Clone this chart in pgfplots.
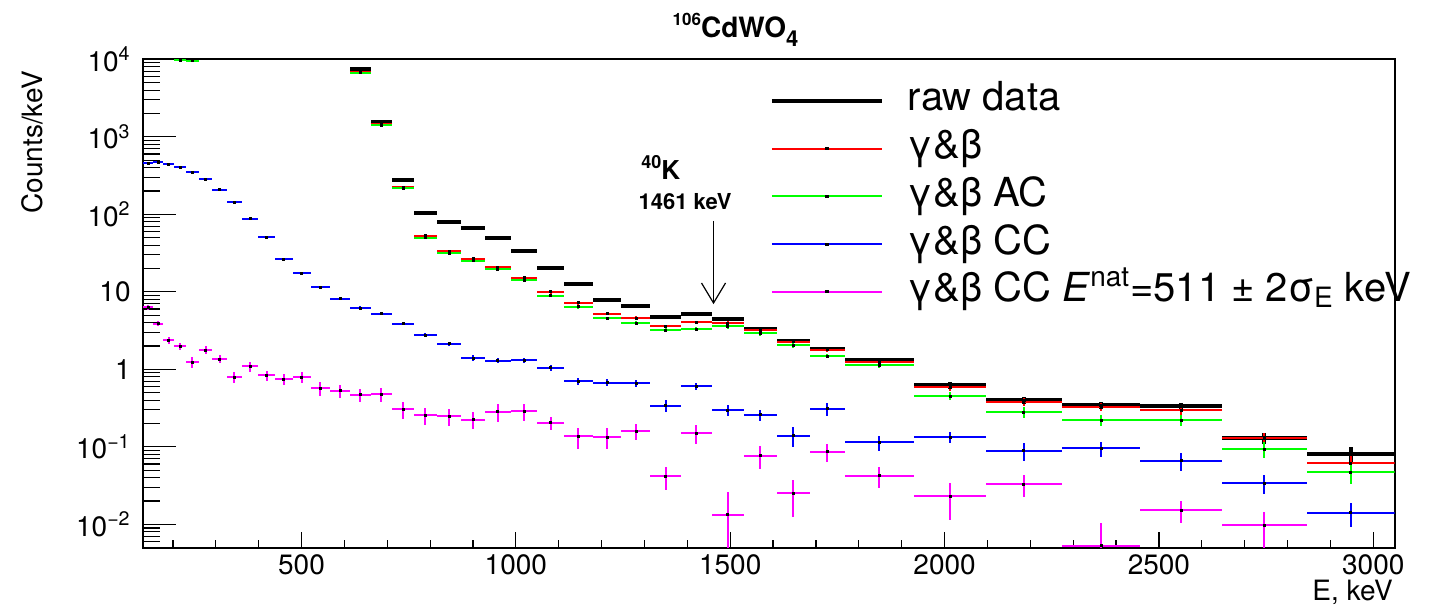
\documentclass[border=0pt]{standalone}
\usepackage{fontspec}
\setmainfont{TeX Gyre Heros}
\usepackage{pgfplots}
\pgfplotsset{compat=1.18}
\usepackage{pgfplotstable}
\usetikzlibrary{arrows.meta}

\pgfplotstableread{
x y ex ey
637 7400 24 74
686 1550 25 16
736.5 281 25.5 3
789 103 27 1
844 80 28 0.8
900 66.7 28 0.7
958 49 30 1.5
1019 33.9 31 1.0
1081 20.0 31 0.6
1145.5 12.6 33.5 0.4
1212.5 7.9 33.5 0.24
1280 6.5 34 0.2
1349.5 4.8 35.5 0.14
1421 5.25 36 0.16
1494.5 4.48 37.5 0.22
1570 3.32 38 0.17
1647 2.35 39 0.12
1726.5 1.83 40.5 0.09
1848 1.32 81 0.066
2013 0.621 84 0.062
2185 0.397 88 0.04
2365 0.345 92 0.035
2552 0.339 95 0.034
2746 0.1306 99 0.021
2947.5 0.081 102.5 0.018
}\rawdata

\pgfplotstableread{
x y ex ey
637 6900 24 69
686 1450 25 15
736.5 222 25.5 2.2
789 53 27 1.6
844 33.3 28 1.0
900 26.7 28 0.8
958 20.9 30 0.63
1019 15.2 31 0.46
1081 10.0 31 0.5
1145.5 7.2 33.5 0.36
1212.5 5.25 33.5 0.26
1280 4.6 34 0.23
1349.5 3.6 35.5 0.18
1421 4.06 36 0.2
1494.5 3.94 37.5 0.24
1570 3.22 38 0.19
1647 2.28 39 0.14
1726.5 1.80 40.5 0.11
1848 1.24 81 0.074
2013 0.59 84 0.059
2185 0.377 88 0.045
2365 0.326 92 0.039
2552 0.295 95 0.035
2746 0.129 99 0.023
2947.5 0.061 102.5 0.015
}\gbdata

\pgfplotstableread{
x y ex ey
217 9770 14 98
245.5 9550 14.5 95
637 6700 24 67
686 1405 25 14
736.5 218 25.5 2.2
789 50 27 1.5
844 31.4 28 0.94
900 25.2 28 0.76
958 19.5 30 0.59
1019 14.2 31 0.43
1081 8.9 31 0.45
1145.5 6.4 33.5 0.32
1212.5 4.53 33.5 0.23
1280 3.97 34 0.2
1349.5 3.22 35.5 0.16
1421 3.32 36 0.17
1494.5 3.57 37.5 0.25
1570 2.9 38 0.2
1647 2.04 39 0.14
1726.5 1.49 40.5 0.1
1848 1.13 81 0.079
2013 0.452 84 0.054
2185 0.278 88 0.044
2365 0.219 92 0.035
2552 0.219 95 0.035
2746 0.093 99 0.021
2947.5 0.047 102.5 0.014
}\acdata

\pgfplotstableread{
x y ex ey
142 458 12 6
165.5 467 11.5 6
190 445 13 6
217 406 14 6
245.5 351 14.5 5
276 284 16 5
309 207 17 4
343.5 143 17.5 3
380 88 19 2
418.5 51 19.5 1.2
458.5 26.3 20.5 0.8
500.5 17.3 21.5 0.6
544 11.4 22 0.4
589.5 8.2 23.5 0.3
637 6.2 24 0.3
686 5.25 25 0.26
736.5 3.9 25.5 0.2
789 2.75 27 0.15
844 2.15 28 0.12
900 1.40 28 0.11
958 1.29 30 0.1
1019 1.31 31 0.1
1081 1.05 31 0.09
1145.5 0.706 33.5 0.07
1212.5 0.673 33.5 0.067
1280 0.665 34 0.067
1349.5 0.339 35.5 0.058
1421 0.603 36 0.06
1494.5 0.295 37.5 0.047
1570 0.259 38 0.041
1647 0.139 39 0.039
1726.5 0.31 40.5 0.062
1848 0.114 81 0.026
2013 0.133 84 0.021
2185 0.0887 88 0.023
2365 0.096 92 0.021
2552 0.066 95 0.017
2746 0.0342 99 0.0096
2947.5 0.0141 102.5 0.0049
}\ccdata

\pgfplotstableread{
x y ex ey
142 6.28 12 0.44
165.5 3.9 11.5 0.31
190 2.37 13 0.24
217 1.98 14 0.20
245.5 1.24 14.5 0.19
276 1.78 16 0.21
309 1.35 17 0.16
343.5 0.788 17.5 0.13
380 1.09 19 0.16
418.5 0.836 19.5 0.125
458.5 0.75 20.5 0.13
500.5 0.788 21.5 0.13
544 0.573 22 0.115
589.5 0.53 23.5 0.106
637 0.47 24 0.094
686 0.475 25 0.095
736.5 0.307 25.5 0.077
789 0.256 27 0.064
844 0.249 28 0.062
900 0.225 28 0.056
958 0.283 30 0.071
1019 0.289 31 0.072
1081 0.204 31 0.041
1145.5 0.136 33.5 0.041
1212.5 0.133 33.5 0.040
1280 0.159 34 0.038
1349.5 0.0417 35.5 0.0138
1421 0.15 36 0.0405
1494.5 0.0133 37.5 0.0126
1570 0.0771 38 0.0254
1647 0.0251 39 0.0126
1726.5 0.0869 40.5 0.0226
1848 0.0425 81 0.0132
2013 0.023 84 0.0115
2185 0.0332 88 0.0106
2365 0.0053 92 0.0052
2552 0.0153 95 0.0049
2746 0.0098 99 0.0048
}\natdata

\definecolor{rgreen}{RGB}{0,255,0}
\definecolor{rmag}{RGB}{255,0,255}

\begin{document}
\begin{tikzpicture}
\path[use as bounding box] (-71.35pt,-30.15pt) rectangle (648.65pt,273.85pt);
\begin{axis}[
  at={(0pt,0pt)}, anchor=south west,
  scale only axis, width=626pt, height=244.2pt,
  xmin=129.5, xmax=3050, ymin=0.005, ymax=10000,
  ymode=log,
  axis line style={line width=0.9pt},
  tick align=inside, xtick pos=bottom, ytick pos=left,
  xtick={500,1000,1500,2000,2500,3000},
  xticklabels={500,1000,1500,2000,2500,3000},
  minor xtick={200,300,...,3000},
  ytick={0.01,0.1,1,10,100,1000,10000},
  yticklabels={{10\textsuperscript{−2}},{10\textsuperscript{−1}},1,10,{10\textsuperscript{2}},{10\textsuperscript{3}},{10\textsuperscript{4}}},
  minor ytick={0.005,0.006,0.007,0.008,0.009,0.02,0.03,0.04,0.05,0.06,0.07,0.08,0.09,0.2,0.3,0.4,0.5,0.6,0.7,0.8,0.9,2,3,4,5,6,7,8,9,20,30,40,50,60,70,80,90,200,300,400,500,600,700,800,900,2000,3000,4000,5000,6000,7000,8000,9000},
  major tick length=16.5pt, minor tick length=8.5pt,
  tick style={line width=0.6pt, black},
  xtick style={/pgfplots/major tick length=8pt,/pgfplots/minor tick length=4pt},
  ticklabel style={font=\fontsize{14}{16}\selectfont},
  yticklabel style={xshift=-2.5pt},
  legend cell align=left,
  legend style={at={(axis description cs:0.501,0.9556)}, anchor=north west, draw=none, fill=none,
    inner sep=0pt, outer sep=0pt, row sep=3.85pt,
    nodes={inner sep=0pt, text height=15pt, text depth=5pt, font=\fontsize{20}{24}\selectfont},
    /tikz/every odd column/.style={column sep=12pt}},
]
\addplot[only marks, mark=square*, mark size=0.6pt, mark options={black, fill=black}, forget plot,
  error bars/.cd, x dir=both, x explicit, y dir=both, y explicit, error mark=none,
  error bar style={line width=2pt, black}]
  table[x=x, y=y, x error=ex, y error=ey]{\rawdata};
\addplot[only marks, mark=square*, mark size=0.5pt, mark options={black, fill=black}, forget plot,
  error bars/.cd, x dir=both, x explicit, y dir=both, y explicit, error mark=none,
  error bar style={line width=1pt, red}]
  table[x=x, y=y, x error=ex, y error=ey]{\gbdata};
\addplot[only marks, mark=square*, mark size=0.5pt, mark options={black, fill=black}, forget plot,
  error bars/.cd, x dir=both, x explicit, y dir=both, y explicit, error mark=none,
  error bar style={line width=1pt, rgreen}]
  table[x=x, y=y, x error=ex, y error=ey]{\acdata};
\addplot[only marks, mark=square*, mark size=0.5pt, mark options={black, fill=black}, forget plot,
  error bars/.cd, x dir=both, x explicit, y dir=both, y explicit, error mark=none,
  error bar style={line width=1pt, blue}]
  table[x=x, y=y, x error=ex, y error=ey]{\ccdata};
\addplot[only marks, mark=square*, mark size=0.5pt, mark options={black, fill=black}, forget plot,
  error bars/.cd, x dir=both, x explicit, y dir=both, y explicit, error mark=none,
  error bar style={line width=1pt, rmag}]
  table[x=x, y=y, x error=ex, y error=ey]{\natdata};

\draw[line width=0.6pt, -{Straight Barb[length=10pt,width=12pt,line width=0.6pt]}] (axis cs:1461,82) -- (axis cs:1461,6.93);

\addlegendimage{legend image code/.code={\draw[black, line width=2pt] (0pt,0pt) -- (55pt,0pt);}}
\addlegendentry{raw data}
\addlegendimage{legend image code/.code={\draw[red, line width=1pt] (0pt,0pt) -- (55pt,0pt); \fill[black] (26.7pt,-0.5pt) rectangle (28.3pt,0.5pt);}}
\addlegendentry{γ\&β}
\addlegendimage{legend image code/.code={\draw[rgreen, line width=1pt] (0pt,0pt) -- (55pt,0pt); \fill[black] (26.7pt,-0.5pt) rectangle (28.3pt,0.5pt);}}
\addlegendentry{γ\&β AC}
\addlegendimage{legend image code/.code={\draw[blue, line width=1pt] (0pt,0pt) -- (55pt,0pt); \fill[black] (26.7pt,-0.5pt) rectangle (28.3pt,0.5pt);}}
\addlegendentry{γ\&β CC}
\addlegendimage{legend image code/.code={\draw[rmag, line width=1pt] (0pt,0pt) -- (55pt,0pt); \fill[black] (26.7pt,-0.5pt) rectangle (28.3pt,0.5pt);}}
\addlegendentry{γ\&β CC \textit{E}\textsuperscript{nat}=511 ± 2σ\textsubscript{E} keV}
\end{axis}

\node[anchor=base, font=\fontsize{14}{16}\selectfont\bfseries] at (296.4pt,255pt)
  {\raisebox{6.3pt}{\fontsize{8.5}{10}\selectfont 106}CdWO\raisebox{-4.5pt}{\fontsize{11}{12}\selectfont 4}};
\node[rotate=90, anchor=base east, font=\fontsize{14}{16}\selectfont] at (-50pt,241.9pt) {Counts/keV};
\node[anchor=base east, font=\fontsize{14}{16}\selectfont] at (628.6pt,-26.6pt) {E, keV};
\node[anchor=base, font=\fontsize{13}{15}\selectfont\bfseries] at (259pt,183.85pt)
  {\raisebox{5.5pt}{\fontsize{9}{10}\selectfont 40}K};
\node[anchor=base, font=\fontsize{11}{13}\selectfont\bfseries] at (271.15pt,168.85pt) {1461 keV};
\end{tikzpicture}
\end{document}
